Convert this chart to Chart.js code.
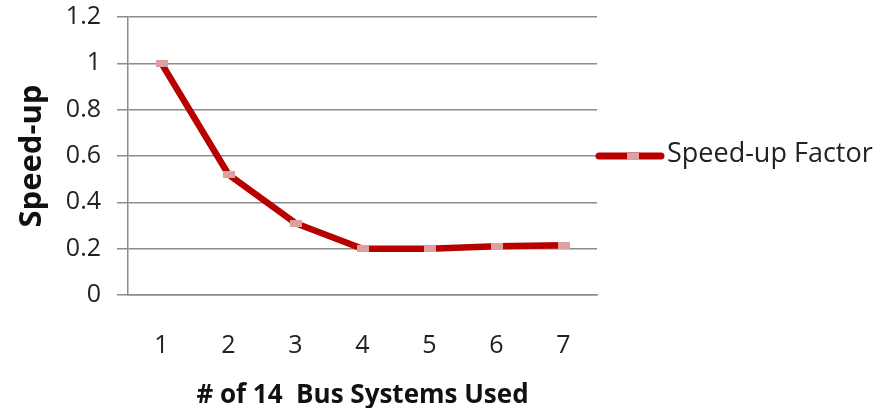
<!DOCTYPE html>
<html>
<head>
<meta charset="utf-8">
<script src="https://cdn.jsdelivr.net/npm/chart.js@4/dist/chart.umd.min.js"></script>
<style>
  html, body { margin: 0; padding: 0; background: #fff; }
  #wrap { width: 889px; height: 408px; }
</style>
</head>
<body>
<div id="wrap"><canvas id="c" width="889" height="408"></canvas></div>
<script>
// Speed-up versus number of 14-bus systems used
const systemsUsed = ['1', '2', '3', '4', '5', '6', '7'];
const speedUp = [1.0, 0.52, 0.31, 0.2, 0.2, 0.21, 0.215];
const yTicks = [0, 0.2, 0.4, 0.6, 0.8, 1, 1.2];
const seriesName = 'Speed-up Factor';

const FONT = '"Open Sans", Lato, "DejaVu Sans", sans-serif';
const LINE_RED = '#b80000';
const MARK_PINK = '#dca0a0';
const GRID = '#8c8c8c';

// Flat rectangular marker used on each data point
const marker = document.createElement('canvas');
marker.width = 12;
marker.height = 7;
(function () {
  const m = marker.getContext('2d');
  m.fillStyle = MARK_PINK;
  m.fillRect(0, 0, 12, 7);
})();

// Legend drawn beside the plot, level with the 0.6 gridline
const sideLegend = {
  id: 'sideLegend',
  afterDraw(chart) {
    const { ctx, chartArea, scales } = chart;
    const y = scales.y.getPixelForValue(0.6);
    const x0 = chartArea.right;
    ctx.save();
    ctx.strokeStyle = LINE_RED;
    ctx.lineWidth = 7;
    ctx.lineCap = 'round';
    ctx.beginPath();
    ctx.moveTo(x0 + 2, y);
    ctx.lineTo(x0 + 64, y);
    ctx.stroke();
    ctx.drawImage(marker, x0 + 30, y - 3.5);
    ctx.fillStyle = '#222';
    ctx.font = '27px ' + FONT;
    ctx.textBaseline = 'middle';
    ctx.fillText(seriesName, x0 + 70, y - 2);
    ctx.restore();
  }
};

new Chart(document.getElementById('c'), {
  type: 'line',
  data: {
    labels: systemsUsed,
    datasets: [{
      label: seriesName,
      data: speedUp,
      borderColor: LINE_RED,
      borderWidth: 6.5,
      tension: 0,
      pointStyle: marker,
      pointRadius: 6,
      pointBorderWidth: 0
    }]
  },
  options: {
    responsive: false,
    animation: false,
    devicePixelRatio: 1,
    layout: { padding: { left: 0, right: 292, top: 17, bottom: 0 } },
    plugins: { legend: { display: false }, tooltip: { enabled: false } },
    scales: {
      x: {
        offset: true,
        grid: { display: false, drawTicks: false },
        border: { display: true, color: GRID, width: 1.5 },
        ticks: { color: '#222', font: { family: FONT, size: 25 }, padding: 36 },
        title: {
          display: true,
          text: '# of 14  Bus Systems Used',
          color: '#111',
          font: { family: FONT, size: 26, weight: 'bold' },
          padding: { top: 0, bottom: -3 }
        },
        afterFit(scale) {
          scale.height = 408 - 295;
          scale.paddingLeft = 0;
          scale.paddingRight = 0;
        }
      },
      y: {
        min: 0,
        max: 1.2,
        afterBuildTicks(scale) { scale.ticks = yTicks.map(v => ({ value: v })); },
        grid: { color: GRID, lineWidth: 1.5, tickLength: 11 },
        border: { display: true, color: GRID, width: 1.5 },
        ticks: {
          color: '#222',
          font: { family: FONT, size: 25 },
          padding: 16,
          callback: v => String(v)
        },
        title: {
          display: true,
          text: 'Speed-up',
          color: '#111',
          font: { family: FONT, size: 31, weight: 'bold' },
          padding: { top: 14, bottom: 0 }
        },
        afterFit(scale) {
          scale.width = 128;
          scale.paddingTop = 0;
          scale.paddingBottom = 0;
        }
      }
    }
  },
  plugins: [sideLegend]
});
</script>
</body>
</html>
